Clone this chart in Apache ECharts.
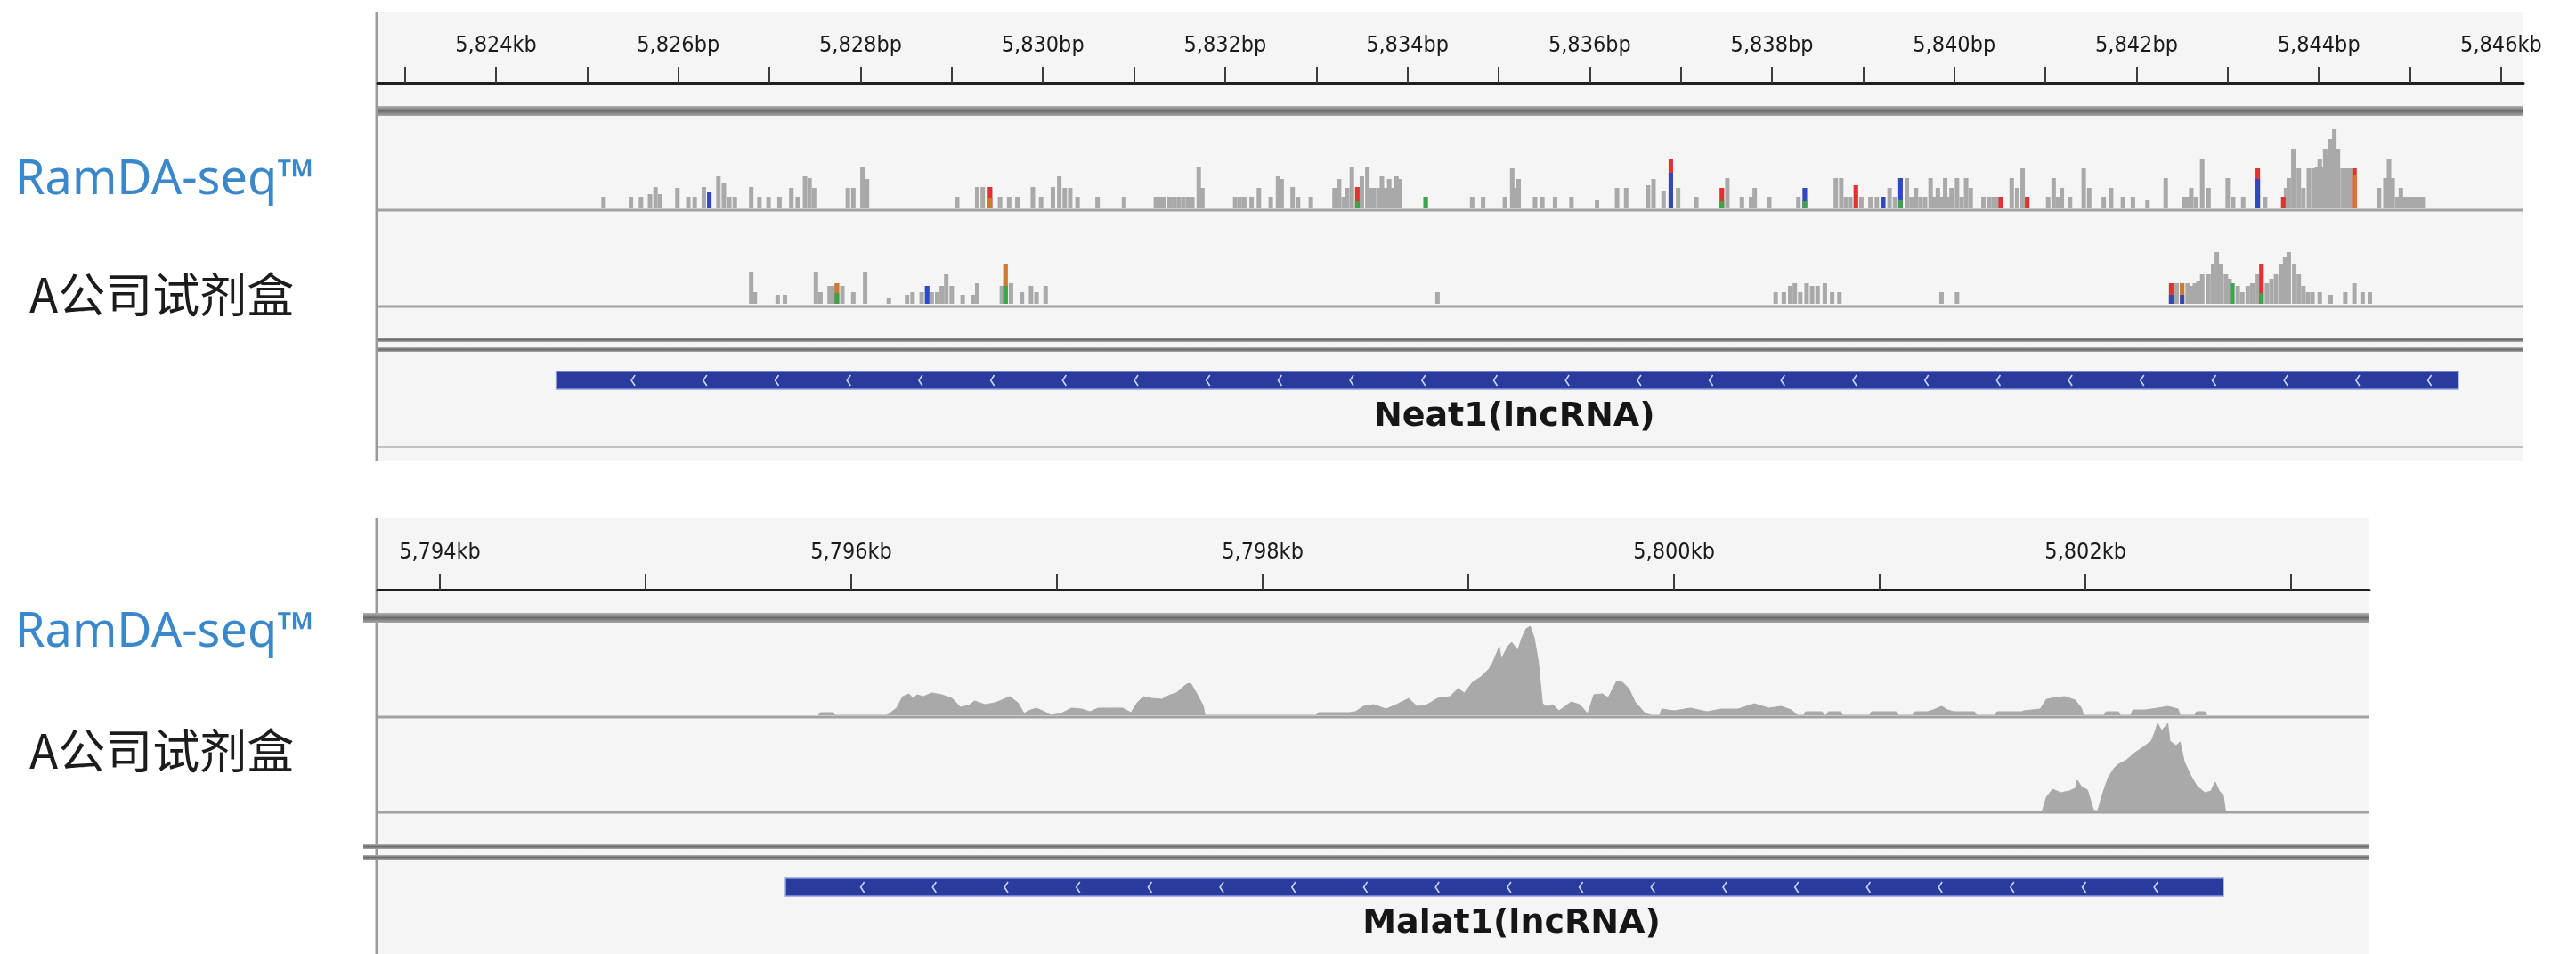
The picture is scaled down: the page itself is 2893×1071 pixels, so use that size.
<!DOCTYPE html>
<html>
<head>
<meta charset="utf-8">
<title>Neat1 / Malat1 coverage</title>
<script src="https://cdn.jsdelivr.net/npm/echarts@6/dist/echarts.min.js"></script>
<style>
html, body { margin: 0; padding: 0; background: #fff; }
#chart { width: 2893px; height: 1071px; }
</style>
</head>
<body>
<div id="chart"></div>
<script>
// ---- data ----
const trackNames = ['RamDA-seq™', 'A公司试剂盒'];
const geneNames = ['Neat1(lncRNA)', 'Malat1(lncRNA)'];

// Neat1 locus, positions in kb
const neatRange = [5822.70, 5846.245];
const neatTicks = [5823, 5824, 5825, 5826, 5827, 5828, 5829, 5830, 5831, 5832, 5833, 5834,
    5835, 5836, 5837, 5838, 5839, 5840, 5841, 5842, 5843, 5844, 5845, 5846];
const neatLabelKb = [5824, 5826, 5828, 5830, 5832, 5834, 5836, 5838, 5840, 5842, 5844, 5846];
const neatLabels = ['5,824kb', '5,826bp', '5,828bp', '5,830bp', '5,832bp', '5,834bp',
    '5,836bp', '5,838bp', '5,840bp', '5,842bp', '5,844bp', '5,846kb'];
const neatGene = [5824.66, 5845.53];

const neatRamda = [
    [5825.18,13],[5825.48,13],[5825.59,13],[5825.69,16],[5825.75,24],[5825.80,16],[5825.99,23],
    [5826.11,13],[5826.18,13],[5826.28,24],[5826.34,19],[5826.44,36],[5826.50,29],[5826.56,13],
    [5826.62,13],[5826.80,24],[5826.89,13],[5826.99,13],[5827.11,13],[5827.24,23],[5827.31,13],
    [5827.39,36],[5827.44,34],[5827.49,23],[5827.86,23],[5827.92,23],[5828.02,46],[5828.07,33],
    [5829.06,13],[5829.28,24],[5829.34,24],[5829.42,24],[5829.53,13],[5829.63,13],[5829.72,13],
    [5829.89,24],[5829.98,13],[5830.11,24],[5830.18,36],[5830.24,23],[5830.30,23],[5830.38,13],
    [5830.60,13],[5830.89,13],[5831.24,13],[5831.29,13],[5831.33,13],[5831.39,13],[5831.44,13],
    [5831.49,13],[5831.54,13],[5831.59,13],[5831.64,13],[5831.71,46],[5831.75,23],[5832.11,13],
    [5832.16,13],[5832.21,13],[5832.29,13],[5832.37,23],[5832.50,13],[5832.58,36],[5832.62,33],
    [5832.74,24],[5832.80,13],[5832.94,13],[5833.20,23],[5833.25,33],[5833.30,13],[5833.34,23],
    [5833.39,46],[5833.45,24],[5833.50,36],[5833.56,46],[5833.60,23],[5833.63,23],[5833.68,23],
    [5833.72,36],[5833.76,23],[5833.80,33],[5833.84,23],[5833.88,36],[5833.92,33],[5834.20,13],
    [5834.71,13],[5834.83,13],[5835.07,13],[5835.15,45],[5835.18,23],[5835.22,33],[5835.40,13],
    [5835.48,13],[5835.62,13],[5835.80,13],[5836.08,10],[5836.30,23],[5836.40,23],[5836.64,26],
    [5836.70,33],[5836.81,20],[5836.89,56],[5836.97,23],[5837.17,13],[5837.45,23],[5837.51,34],
    [5837.67,13],[5837.77,13],[5837.81,23],[5837.97,13],[5838.29,13],[5838.36,23],[5838.70,34],
    [5838.76,34],[5838.81,13],[5838.86,13],[5838.92,26],[5838.98,13],[5839.08,13],[5839.15,13],
    [5839.22,13],[5839.29,23],[5839.35,13],[5839.41,34],[5839.48,34],[5839.53,13],[5839.58,23],
    [5839.63,13],[5839.68,13],[5839.74,34],[5839.78,13],[5839.82,23],[5839.86,13],[5839.90,34],
    [5839.93,13],[5839.97,23],[5840.03,34],[5840.08,13],[5840.13,34],[5840.18,23],[5840.32,13],
    [5840.38,13],[5840.43,13],[5840.47,13],[5840.51,13],[5840.63,34],[5840.69,23],[5840.75,45],
    [5840.80,13],[5841.03,13],[5841.09,34],[5841.14,13],[5841.18,23],[5841.27,13],[5841.42,45],
    [5841.48,23],[5841.64,13],[5841.72,23],[5841.85,13],[5841.96,13],[5842.12,10],[5842.32,34],
    [5842.52,13],[5842.56,13],[5842.60,23],[5842.65,13],[5842.72,56],[5842.79,23],[5843.00,34],
    [5843.06,13],[5843.17,13],[5843.33,45],[5843.41,13],[5843.61,13],[5843.64,23],[5843.67,34],
    [5843.72,67],[5843.78,45],[5843.83,23],[5843.89,45],[5843.94,45],[5843.98,46],[5844.01,56],
    [5844.04,46],[5844.07,67],[5844.10,60],[5844.13,78],[5844.17,89],[5844.21,67],[5844.26,45],
    [5844.30,45],[5844.34,45],[5844.39,45],[5844.66,23],[5844.73,34],[5844.77,56],[5844.81,34],
    [5844.86,13],[5844.90,23],[5844.94,13],[5844.98,13],[5845.02,13],[5845.06,13],[5845.10,13],
    [5845.14,13]
];
const neatKit = [
    [5826.80,36],[5826.84,13],[5827.09,10],[5827.17,10],[5827.51,36],[5827.56,13],[5827.66,20],
    [5827.70,20],[5827.74,23],[5827.80,20],[5827.92,13],[5828.05,36],[5828.31,7],[5828.51,10],
    [5828.57,13],[5828.67,13],[5828.73,20],[5828.78,13],[5828.84,13],[5828.89,20],[5828.94,33],
    [5829.00,20],[5829.12,10],[5829.24,10],[5829.28,23],[5829.55,20],[5829.59,45],[5829.65,23],
    [5829.77,13],[5829.87,20],[5829.93,13],[5830.03,20],[5834.33,13],[5838.04,13],[5838.13,13],
    [5838.20,20],[5838.25,23],[5838.31,13],[5838.38,23],[5838.44,20],[5838.50,20],[5838.58,23],
    [5838.66,13],[5838.74,13],[5839.86,13],[5840.03,13],[5842.38,23],[5842.44,23],[5842.50,23],
    [5842.56,23],[5842.60,20],[5842.64,23],[5842.68,25],[5842.72,33],[5842.79,33],[5842.84,45],
    [5842.88,58],[5842.92,45],[5842.98,33],[5843.02,28],[5843.05,23],[5843.11,20],[5843.16,13],
    [5843.22,20],[5843.27,23],[5843.33,33],[5843.37,45],[5843.43,23],[5843.48,28],[5843.53,33],
    [5843.59,45],[5843.63,52],[5843.67,58],[5843.73,45],[5843.78,33],[5843.83,20],[5843.88,13],
    [5843.93,13],[5844.01,13],[5844.13,10],[5844.29,13],[5844.39,23],[5844.48,13],[5844.56,13]
];
// mismatched bases: [kb, height, base]
const neatRamdaMis = [
    [5826.34,19,'C'],[5829.42,24,'T'],[5829.42,12,'G'],[5833.45,24,'T'],[5833.45,8,'A'],
    [5834.20,13,'A'],[5836.89,56,'T'],[5836.89,40,'C'],[5837.45,23,'T'],[5837.45,8,'A'],
    [5838.36,23,'C'],[5838.36,8,'A'],[5838.92,26,'T'],[5839.22,13,'C'],[5839.41,34,'C'],
    [5839.41,10,'A'],[5840.51,13,'T'],[5840.80,13,'T'],[5843.33,45,'T'],[5843.33,33,'C'],
    [5843.61,13,'T'],[5844.39,45,'T'],[5844.39,38,'G']
];
const neatKitMis = [
    [5827.74,23,'G'],[5827.74,12,'A'],[5828.73,20,'C'],[5829.59,45,'G'],[5829.59,20,'A'],
    [5842.38,23,'T'],[5842.38,10,'C'],[5842.50,23,'G'],[5842.50,10,'C'],[5843.05,23,'A'],
    [5843.37,45,'T'],[5843.37,12,'A']
];

// Malat1 locus, positions in kb
const malatRange = [5793.697, 5803.38];
const malatTicks = [5794, 5795, 5796, 5797, 5798, 5799, 5800, 5801, 5802, 5803];
const malatLabelKb = [5794, 5796, 5798, 5800, 5802];
const malatLabels = ['5,794kb', '5,796kb', '5,798kb', '5,800kb', '5,802kb'];
const malatGene = [5795.68, 5802.67];

const malatRamda = [
    [5795.84,0],[5795.85,3],[5795.91,3],[5795.92,0],
    [5796.17,0],[5796.18,1],[5796.22,8],[5796.25,21],[5796.28,24],[5796.30,19],[5796.32,23],
    [5796.35,21],[5796.39,25],[5796.44,23],[5796.49,19],[5796.53,9],[5796.57,11],[5796.60,16],
    [5796.65,12],[5796.70,14],[5796.74,18],[5796.77,21],[5796.81,14],[5796.84,2],[5796.86,5],
    [5796.90,8],[5796.94,4],[5796.97,0],[5797.02,2],[5797.07,8],[5797.12,7],[5797.16,4],
    [5797.20,8],[5797.25,8],[5797.32,8],[5797.36,3],[5797.39,14],[5797.42,21],[5797.46,19],
    [5797.51,18],[5797.55,23],[5797.58,25],[5797.61,31],[5797.63,35],[5797.65,36],[5797.68,24],
    [5797.71,11],[5797.72,0],
    [5798.26,0],[5798.27,3],[5798.42,3],[5798.45,4],[5798.49,10],[5798.54,12],[5798.60,7],
    [5798.65,12],[5798.71,19],[5798.75,10],[5798.80,12],[5798.85,19],[5798.91,21],[5798.95,30],
    [5798.98,25],[5799.02,37],[5799.06,43],[5799.10,52],[5799.12,60],[5799.15,77],[5799.16,63],
    [5799.19,77],[5799.21,82],[5799.24,73],[5799.26,87],[5799.28,97],[5799.30,100],[5799.32,87],
    [5799.34,60],[5799.36,13],[5799.38,10],[5799.41,12],[5799.44,5],[5799.50,15],[5799.54,12],
    [5799.58,2],[5799.61,23],[5799.65,24],[5799.68,20],[5799.72,38],[5799.75,37],[5799.78,30],
    [5799.81,15],[5799.86,2],[5799.89,0],
    [5799.93,0],[5799.94,7],[5800.00,5],[5800.08,8],[5800.16,4],[5800.23,7],[5800.31,7],
    [5800.39,13],[5800.46,8],[5800.52,10],[5800.57,6],[5800.60,0],
    [5800.63,0],[5800.64,4],[5800.72,4],[5800.73,0],[5800.74,0],[5800.75,4],[5800.81,4],[5800.82,0],
    [5800.95,0],[5800.96,4],[5801.08,4],[5801.09,0],
    [5801.16,0],[5801.17,4],[5801.23,4],[5801.26,6],[5801.30,10],[5801.33,6],[5801.36,4],
    [5801.46,4],[5801.47,0],
    [5801.56,0],[5801.57,4],[5801.69,4],[5801.70,5],[5801.78,7],[5801.81,18],[5801.86,20],
    [5801.90,21],[5801.95,17],[5801.98,8],[5801.99,0],
    [5802.09,0],[5802.10,4],[5802.16,4],[5802.17,0],
    [5802.22,0],[5802.23,6],[5802.29,6],[5802.35,8],[5802.40,10],[5802.45,7],[5802.46,0],
    [5802.53,0],[5802.54,4],[5802.58,4],[5802.59,0]
];
const malatKit = [
    [5801.79,0],[5801.81,15],[5801.84,24],[5801.88,20],[5801.92,22],[5801.95,25],[5801.96,34],
    [5801.98,27],[5802.01,23],[5802.03,7],[5802.04,0],[5802.06,0],[5802.08,17],[5802.11,37],
    [5802.14,48],[5802.16,52],[5802.20,57],[5802.24,65],[5802.26,68],[5802.29,73],[5802.32,78],
    [5802.34,90],[5802.35,98],[5802.37,90],[5802.39,95],[5802.40,98],[5802.41,78],[5802.44,73],
    [5802.46,77],[5802.48,55],[5802.51,40],[5802.54,28],[5802.58,20],[5802.61,22],[5802.63,32],
    [5802.65,22],[5802.67,17],[5802.68,0]
];

// ---- chart ----
const baseColors = { A: '#3fa34d', C: '#2f49c2', G: '#d1782a', T: '#e2312f' };
const coverColor = '#a9a9a9';

const myChart = echarts.init(document.getElementById('chart'));

const tickFormatter = (kbs, labels) => (v) => {
    const i = kbs.findIndex(k => Math.abs(k - v) < 1e-6);
    return i >= 0 ? labels[i] : '';
};

// grids: ruler / track1 / track2 / gene, for each locus
const topW = 2834 - 424;
const botW = 2661 - 424;
const grids = [
    { left: 424, top: 15, width: topW, height: 78 },
    { left: 424, top: 134, width: topW, height: 100 },
    { left: 424, top: 241, width: topW, height: 100 },
    { left: 424, top: 407, width: topW, height: 40 },
    { left: 424, top: 584, width: botW, height: 78 },
    { left: 424, top: 703, width: botW, height: 100 },
    { left: 424, top: 810, width: botW, height: 100 },
    { left: 424, top: 976, width: botW, height: 40 }
].map(g => Object.assign({ outerBoundsMode: 'none', containLabel: false }, g));

const rulerAxis = (gridIndex, range, ticks, labelKb, labels) => ({
    type: 'value', gridIndex, min: range[0], max: range[1], position: 'bottom', z: 4,
    axisLine: { show: true, onZero: false, lineStyle: { color: '#1e1e1e', width: 3 } },
    axisTick: { show: true, inside: true, length: 18, customValues: ticks,
        lineStyle: { color: '#3c3c3c', width: 2 } },
    axisLabel: { show: true, inside: true, margin: 29, customValues: labelKb,
        formatter: tickFormatter(labelKb, labels),
        color: '#1a1a1a', fontFamily: 'DejaVu Sans Condensed', fontSize: 25 },
    splitLine: { show: false }
});
const hiddenAxis = (gridIndex, range) => ({
    type: 'value', gridIndex, min: range[0], max: range[1], show: false, splitLine: { show: false }
});

const xAxis = [
    rulerAxis(0, neatRange, neatTicks, neatLabelKb, neatLabels),
    hiddenAxis(1, neatRange), hiddenAxis(2, neatRange), hiddenAxis(3, neatRange),
    rulerAxis(4, malatRange, malatTicks, malatLabelKb, malatLabels),
    hiddenAxis(5, malatRange), hiddenAxis(6, malatRange), hiddenAxis(7, malatRange)
];
const yAxis = grids.map((g, i) => ({
    type: 'value', gridIndex: i, min: 0, max: (i % 4 === 3) ? 1 : 100, show: false
}));

const barTrack = (idx, data) => ({
    type: 'bar', xAxisIndex: idx, yAxisIndex: idx, data, barWidth: 5, barGap: '-100%',
    itemStyle: { color: coverColor }, silent: true, z: 2
});
const misTrack = (idx, data) => ({
    type: 'bar', xAxisIndex: idx, yAxisIndex: idx, barWidth: 5, barGap: '-100%', silent: true, z: 3,
    data: data.map(d => ({ value: [d[0], d[1]], itemStyle: { color: baseColors[d[2]] } }))
});
const areaTrack = (idx, data) => ({
    type: 'line', xAxisIndex: idx, yAxisIndex: idx, data, symbol: 'none', showSymbol: false,
    lineStyle: { width: 1, color: coverColor }, areaStyle: { color: coverColor, opacity: 1 },
    silent: true, z: 2
});
const geneTrack = (idx, gene, name) => ({
    type: 'custom', xAxisIndex: idx, yAxisIndex: idx, silent: true, z: 3,
    data: [[gene[0], gene[1], 0.5]],
    encode: { x: [0, 1], y: 2 },
    renderItem: (params, api) => {
        const s = api.coord([api.value(0), api.value(2)]);
        const e = api.coord([api.value(1), api.value(2)]);
        const cy = s[1];
        const children = [{
            type: 'rect',
            shape: { x: s[0], y: cy - 10, width: e[0] - s[0], height: 20 },
            style: { fill: '#2a3b9e', stroke: '#8a9be0', lineWidth: 1.5 }
        }];
        // strand arrows (minus strand)
        for (let x = s[0] + 86; x < e[0] - 4; x += 80.7) {
            children.push({
                type: 'polyline',
                shape: { points: [[x + 2.5, cy - 6], [x - 1.5, cy], [x + 2.5, cy + 6]] },
                style: { stroke: '#cdd5f6', lineWidth: 1.6, fill: 'none' }
            });
        }
        children.push({
            type: 'text',
            style: { text: name, x: (s[0] + e[0]) / 2 + 8, y: cy + 41, align: 'center',
                verticalAlign: 'middle', font: 'bold 38px "DejaVu Sans"', fill: '#161616' }
        });
        return { type: 'group', children };
    }
});

// panel decoration
const grayBar = () => new echarts.graphic.LinearGradient(0, 0, 0, 1, [
    { offset: 0, color: '#b4b4b4' }, { offset: 0.5, color: '#6b6b6b' }, { offset: 1, color: '#a8a8a8' }
]);
const rect = (x, y, w, h, fill, z) => ({ type: 'rect', z, silent: true,
    shape: { x, y, width: w, height: h }, style: { fill } });
const hline = (x1, x2, y, color, width) => ({ type: 'line', z: 1, silent: true,
    shape: { x1, y1: y, x2, y2: y }, style: { stroke: color, lineWidth: width } });
const vline = (x, y1, y2, color, width) => ({ type: 'line', z: 1, silent: true,
    shape: { x1: x, y1, x2: x, y2 }, style: { stroke: color, lineWidth: width } });
const label = (x, y, text, font, fill) => ({ type: 'text', z: 5, silent: true, x, y,
    style: { text, font, fill, align: 'left', verticalAlign: 'middle' } });

const graphic = [
    rect(424, 13, topW, 504, '#f5f5f5', 0),
    rect(424, 581, botW, 490, '#f5f5f5', 0),
    vline(423, 13, 517, '#9a9a9a', 3),
    vline(423, 581, 1071, '#9a9a9a', 3),
    rect(424, 119, topW, 11, grayBar(), 1),
    rect(408, 688, botW + 16, 11, grayBar(), 1),
    hline(424, 2834, 236, '#a2a2a2', 3),
    hline(424, 2834, 344, '#a2a2a2', 3),
    hline(424, 2661, 805, '#a2a2a2', 3),
    hline(424, 2661, 912, '#a2a2a2', 3),
    rect(424, 379, topW, 5, grayBar(), 1),
    rect(424, 390, topW, 5, grayBar(), 1),
    rect(408, 948, botW + 16, 5, grayBar(), 1),
    rect(408, 960, botW + 16, 5, grayBar(), 1),
    hline(424, 2834, 502, '#c2c2c2', 2),
    label(17, 203, trackNames[0], '54px "Noto Sans"', '#3a88c9'),
    label(33, 331, trackNames[1], '53px "Noto Sans CJK SC"', '#1c1c1c'),
    label(17, 711, trackNames[0], '54px "Noto Sans"', '#3a88c9'),
    label(33, 843, trackNames[1], '53px "Noto Sans CJK SC"', '#1c1c1c')
];

const option = {
    animation: false,
    backgroundColor: '#ffffff',
    grid: grids,
    xAxis,
    yAxis,
    graphic,
    series: [
        barTrack(1, neatRamda), misTrack(1, neatRamdaMis),
        barTrack(2, neatKit), misTrack(2, neatKitMis),
        geneTrack(3, neatGene, geneNames[0]),
        areaTrack(5, malatRamda),
        areaTrack(6, malatKit),
        geneTrack(7, malatGene, geneNames[1])
    ]
};

myChart.setOption(option);
</script>
</body>
</html>
